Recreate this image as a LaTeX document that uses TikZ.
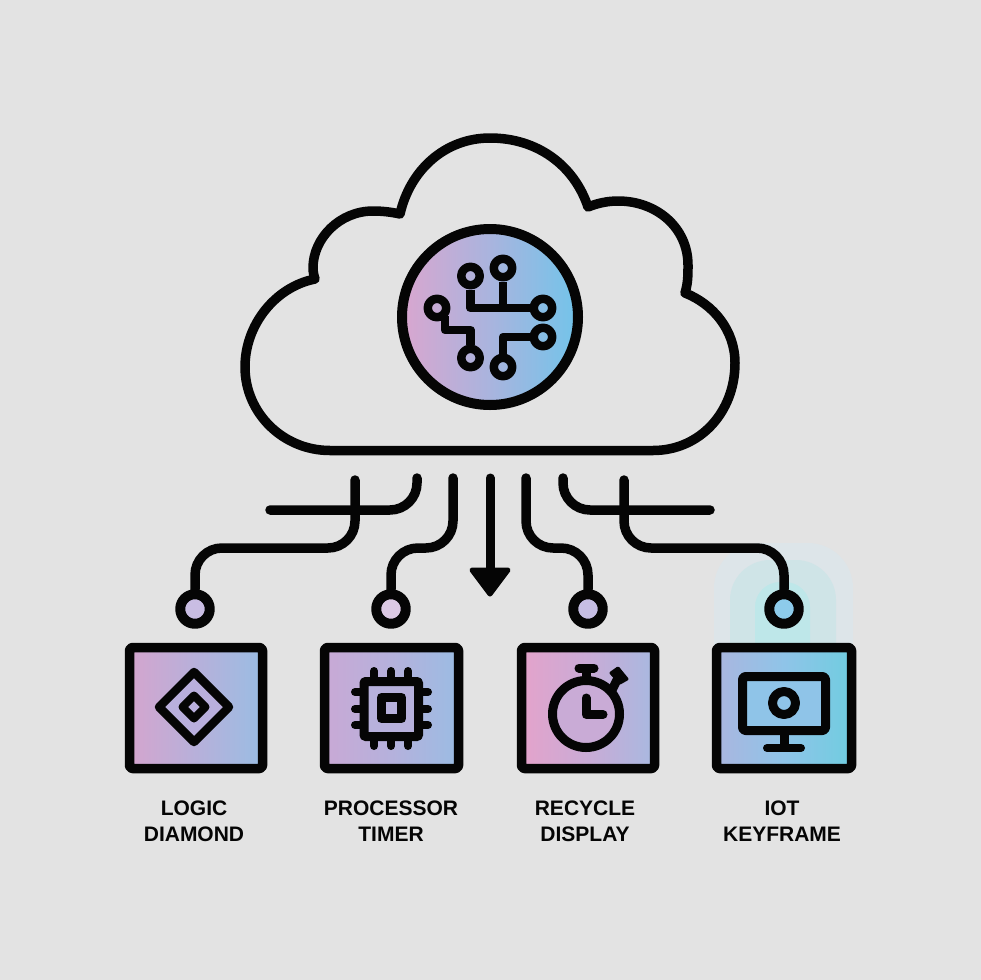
\documentclass[tikz,border=0pt]{standalone}
\usepackage{fontspec}
\setmainfont{Liberation Sans}
\usepackage{tikz}
\usetikzlibrary{positioning}
\definecolor{paper}{HTML}{E3E3E3}
\definecolor{ink}{HTML}{050505}
\definecolor{glowA}{HTML}{DDE5E9}
\definecolor{glowB}{HTML}{CFE4E7}
\definecolor{glowC}{HTML}{BEE7E9}

\begin{document}
\begin{tikzpicture}
[x=1pt,y=-1pt,line join=round,
 trace/.style={draw=ink,line width=9.5pt,line cap=round,rounded corners=27pt},
 icon/.style={draw=ink,line width=9pt,line cap=round},
 fine/.style={draw=ink,line width=8pt,line cap=round},
 pinhead/.style={circle,draw=ink,line width=10pt,inner sep=0pt,minimum size=29.5pt},
 panel/.style={rectangle,draw=ink,line width=9.5pt,rounded corners=3pt,inner sep=0pt,minimum height=121pt},
 caption/.style={align=center,text=ink,font=\bfseries\fontsize{21}{26}\selectfont}]
\useasboundingbox (0,0) rectangle (980,980);
\fill[paper] (-3,-3) rectangle (983,983);

% glow behind the last pin
\fill[glowA] (714,648) [rounded corners=45pt] -- (714,543) -- (853,543) [sharp corners] -- (853,648) -- cycle;
\fill[glowB] (730,648) [rounded corners=40pt] -- (730,560) -- (836,560) [sharp corners] -- (836,648) -- cycle;
\fill[glowC] (755,648) [rounded corners=25pt] -- (755,582) -- (810,582) [sharp corners] -- (810,648) -- cycle;

% cloud
\draw[icon,line width=9.5pt] (330,450.5) -- (653,450.5) .. controls (700,450.5) and (735,412) .. (735,363)
  .. controls (735,330) and (713,304) .. (685,293)
  .. controls (688,283) and (688,275) .. (688,265)
  .. controls (688,228) and (657,201) .. (618,201)
  .. controls (608,201) and (598,203) .. (588,207)
  .. controls (574,165) and (537,138) .. (490,138)
  .. controls (445,138) and (410,170) .. (400,214)
  .. controls (391,212) and (382,211) .. (373,211)
  .. controls (340,211) and (313,238) .. (313,268)
  .. controls (313,272) and (314,276) .. (315,279)
  .. controls (275,287) and (245,325) .. (245,367)
  .. controls (245,413) and (283,450.5) .. (330,450.5) -- cycle;

% chip in the cloud
\node[circle,draw=ink,line width=10pt,inner sep=0pt,minimum size=176pt,left color={rgb,255:red,217;green,166;blue,207},right color={rgb,255:red,114;green,196;blue,234},middle color={rgb,255:red,169;green,180;blue,222}] (hub) at (490,317) {};
\tikzset{pad/.style={circle,draw=ink,line width=8.5pt,inner sep=0pt,minimum size=18.5pt}}
\node[pad] (p1) at (470.5,276) {};
\node[pad] (p2) at (503,268) {};
\node[pad] (p3) at (543,308) {};
\node[pad] (p4) at (543,337) {};
\node[pad] (p5) at (503,367) {};
\node[pad] (p6) at (470.5,358) {};
\node[pad] (p7) at (437,308) {};
\coordinate (b1) at (470.5,308);
\coordinate (b2) at (503,308);
\coordinate (b3) at (503,337);
\coordinate (b4) at (470.5,330);
\coordinate (b5) at (445,330);
\coordinate (b6) at (445,316);
\tikzset{wire/.style={draw=ink,line width=8.5pt,line cap=butt,line join=round}}
\draw[wire] (p1) -- (b1) -- (p3);
\draw[wire] (p2) -- (b2);
\draw[wire] (p4) -- (b3) -- (p5);
\draw[wire] (b6) -- (b5) -- (b4) -- (p6);

% pins
\node[pinhead,fill={rgb,255:red,201;green,189;blue,227}] (pinA) at (195,609) {};
\node[pinhead,fill={rgb,255:red,220;green,201;blue,228}] (pinB) at (391,609) {};
\node[pinhead,fill={rgb,255:red,198;green,190;blue,228}] (pinC) at (588,609) {};
\node[pinhead,fill={rgb,255:red,141;green,203;blue,235}] (pinD) at (784,609) {};

% free ends
\coordinate (a1) at (355,480);
\coordinate (a2) at (355,548);
\coordinate (e1) at (417,478);
\coordinate (e2) at (417,510);
\coordinate (e3) at (270,510);
\coordinate (c1) at (453,478);
\coordinate (c2) at (453,548);
\coordinate (d1) at (490,478);
\coordinate (d2) at (490,572);
\coordinate (f1) at (526,478);
\coordinate (f2) at (526,548);
\coordinate (g1) at (563,478);
\coordinate (g2) at (563,510);
\coordinate (g3) at (710,510);
\coordinate (h1) at (624,480);
\coordinate (h2) at (624,548);

\draw[trace] (a1) -- (a2) -| (pinA);
\draw[trace] (e1) -- (e2) -- (e3);
\draw[trace] (c1) -- (c2) -| (pinB);
\draw[trace] (f1) -- (f2) -| (pinC);
\draw[trace] (g1) -- (g2) -- (g3);
\draw[trace] (h1) -- (h2) -| (pinD);
\draw[icon] (d1) -- (d2);
\fill[ink,draw=ink,line width=5pt] (472,570) -- (508,570) -- (490,594) -- cycle;

% panels
\node[panel,minimum width=133pt,left color={rgb,255:red,212;green,165;blue,206},right color={rgb,255:red,154;green,189;blue,227},middle color={rgb,255:red,183;green,176;blue,218}] (logic) at (196,708) {};
\node[panel,minimum width=134pt,left color={rgb,255:red,201;green,169;blue,213},right color={rgb,255:red,155;green,188;blue,227},middle color={rgb,255:red,181;green,177;blue,220}] (cpu) at (391.5,708) {};
\node[panel,minimum width=133pt,left color={rgb,255:red,228;green,163;blue,203},right color={rgb,255:red,168;green,185;blue,224},middle color={rgb,255:red,201;green,171;blue,214}] (watch) at (588,708) {};
\node[panel,minimum width=135pt,left color={rgb,255:red,170;green,182;blue,223},right color={rgb,255:red,112;green,205;blue,224},middle color={rgb,255:red,143;green,196;blue,232}] (screen) at (784,708) {};

% diamond
\draw[icon,line width=8.5pt,fill={rgb,255:red,185;green,175;blue,221}] (194,672) -- (229,707) -- (194,742) -- (159,707) -- cycle;
\draw[fine,fill={rgb,255:red,185;green,175;blue,221}] (194,695.5) -- (205.5,707) -- (194,718.5) -- (182.5,707) -- cycle;

% processor
\foreach \px in {374,391,408} {
  \draw[fine] (\px,671) -- (\px,685);
  \draw[fine] (\px,746) -- (\px,731);
}
\foreach \py in {692,709,725} {
  \draw[fine] (355,\py) -- (370,\py);
  \draw[fine] (428,\py) -- (412,\py);
}
\draw[icon,rounded corners=1pt,fill={rgb,255:red,183;green,177;blue,220}] (364,681.5) rectangle (418.5,736.5);
\draw[icon,fill={rgb,255:red,183;green,177;blue,220}] (381.5,697.5) rectangle (401.5,718.5);

% stopwatch
\draw[icon] (579,668) -- (594,668);
\draw[icon,line cap=butt] (586,668) -- (586,680);
\draw[icon,line cap=butt] (611,692) -- (618,678);
\fill[ink,draw=ink,line width=3pt] (611,673) -- (618,668) -- (627,679) -- (620,683) -- cycle;
\draw[icon,fill={rgb,255:red,201;green,171;blue,214}] (586,714) circle (33.5);
\draw[icon] (586,698) -- (586,714.5) -- (603,714.5);

% monitor
\draw[icon,line cap=butt] (784,732) -- (784,748);
\draw[fine] (767,748) -- (801,748);
\draw[icon,rounded corners=3pt,fill={rgb,255:red,143;green,196;blue,232}] (742.5,676.5) rectangle (825.5,730.5);
\draw[icon,fill={rgb,255:red,143;green,196;blue,232}] (784,703) circle (11.5);

% captions
\node[caption] (capA) at (194,821) {LOGIC\\DIAMOND};
\node[caption] (capB) at (391,821) {PROCESSOR\\TIMER};
\node[caption] (capC) at (585,821) {RECYCLE\\DISPLAY};
\node[caption] (capD) at (782,821) {IOT\\KEYFRAME};
\end{tikzpicture}
\end{document}
